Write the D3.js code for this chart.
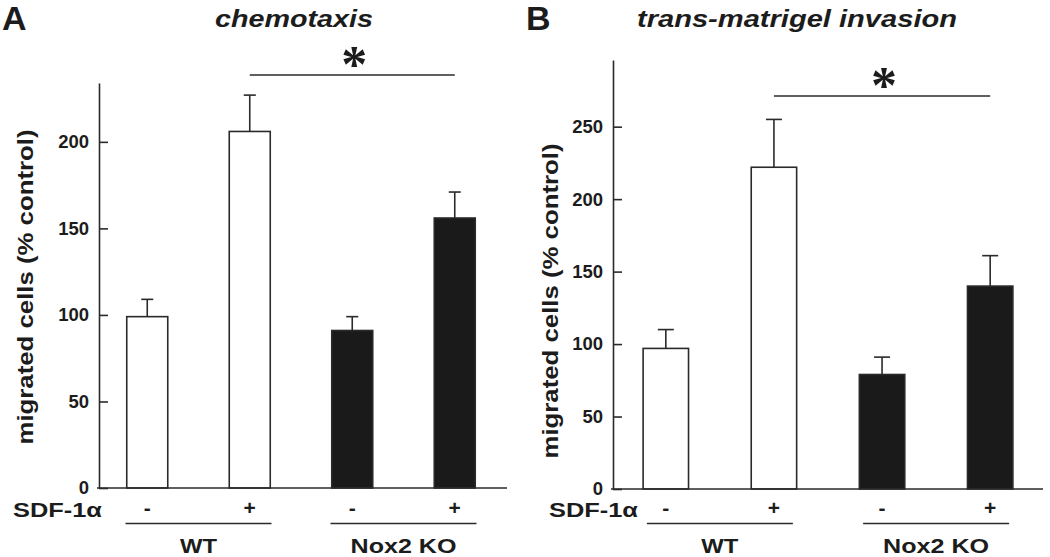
<!DOCTYPE html>
<html>
<head>
<meta charset="utf-8">
<script src="https://cdn.jsdelivr.net/npm/d3@7/dist/d3.min.js"></script>
<style>
  html, body { margin: 0; padding: 0; background: #fff; }
  svg { display: block; }
  text { font-family: "Liberation Sans", Arial, sans-serif; font-weight: bold; fill: #1c1c1c; }
</style>
</head>
<body>
<svg id="chart" width="1050" height="557"></svg>
<script>
// ---- Data ----
const conditions = ["WT -", "WT +", "Nox2 KO -", "Nox2 KO +"];
const sdfLabels = ["-", "+", "-", "+"];
const groups = ["WT", "Nox2 KO"];
const genotypeOf = ["WT", "WT", "Nox2 KO", "Nox2 KO"];

const chemotaxisMeans = [99, 206, 91, 156];
const chemotaxisErrors = [10, 21, 8, 15];
const invasionMeans = [97, 222, 79, 140];
const invasionErrors = [13, 33, 12, 21];

const chemotaxisTicks = [0, 50, 100, 150, 200];
const invasionTicks = [0, 50, 100, 150, 200, 250];

const yLabel = "migrated cells (% control)";
const sdfLabel = "SDF-1\u03b1";

const svg = d3.select("#chart");
const ink = "#1c1c1c";
const lineCol = "#2a2a2a";

function drawPanel(p) {
  const g = svg.append("g");
  const x = d3.scaleBand().domain(conditions).range(p.xRange)
    .paddingInner(p.padInner).paddingOuter(p.padOuter);
  const y = d3.scaleLinear().domain([0, p.yMax]).range([p.y0, p.yTop]);

  // bars
  g.selectAll("rect.bar").data(p.means).enter().append("rect")
    .attr("x", (d, i) => x(conditions[i]))
    .attr("y", d => y(d))
    .attr("width", x.bandwidth())
    .attr("height", d => y(0) - y(d))
    .attr("fill", (d, i) => genotypeOf[i] === "WT" ? "#fff" : "#1a1a1a")
    .attr("stroke", lineCol).attr("stroke-width", 1.6);

  // error bars (upper only)
  const eb = g.selectAll("g.err").data(p.means).enter().append("g");
  eb.append("line")
    .attr("x1", (d, i) => x(conditions[i]) + x.bandwidth() / 2)
    .attr("x2", (d, i) => x(conditions[i]) + x.bandwidth() / 2)
    .attr("y1", d => y(d))
    .attr("y2", (d, i) => y(d + p.errors[i]))
    .attr("stroke", lineCol).attr("stroke-width", 1.6);
  eb.append("line")
    .attr("x1", (d, i) => x(conditions[i]) + x.bandwidth() / 2 - p.cap / 2)
    .attr("x2", (d, i) => x(conditions[i]) + x.bandwidth() / 2 + p.cap / 2)
    .attr("y1", (d, i) => y(d + p.errors[i]))
    .attr("y2", (d, i) => y(d + p.errors[i]))
    .attr("stroke", lineCol).attr("stroke-width", 1.6);

  // baseline
  g.append("line").attr("x1", p.axisX - 2).attr("x2", p.baseEnd)
    .attr("y1", y(0)).attr("y2", y(0))
    .attr("stroke", lineCol).attr("stroke-width", 1.6);

  // y axis
  const ax = g.append("g").attr("transform", `translate(${p.axisX},0)`)
    .call(d3.axisLeft(y).tickValues(p.ticks).tickFormat(d3.format("d"))
      .tickSizeInner(-9).tickSizeOuter(0).tickPadding(10));
  ax.select(".domain").attr("stroke", lineCol).attr("stroke-width", 1.6);
  ax.selectAll(".tick line").attr("stroke", lineCol).attr("stroke-width", 1.6);
  ax.selectAll(".tick text")
    .style("font-family", '"Liberation Sans", Arial, sans-serif')
    .style("font-weight", "bold").attr("font-size", 18.5).attr("fill", ink)
    .attr("dy", "0.32em");

  // y label
  g.append("text")
    .attr("transform", `translate(${p.yLabelX},${p.yLabelY}) rotate(-90)`)
    .attr("text-anchor", "middle").attr("font-size", 22.5)
    .attr("textLength", 315).attr("lengthAdjust", "spacingAndGlyphs")
    .text(yLabel);

  // title + panel letter
  g.append("text").attr("x", p.titleX).attr("y", 27).attr("text-anchor", "middle")
    .attr("font-size", 23).attr("font-style", "italic")
    .attr("textLength", p.titleLen).attr("lengthAdjust", "spacingAndGlyphs")
    .text(p.title);
  g.append("text").attr("x", p.letterX).attr("y", 30).attr("font-size", 34)
    .text(p.letter);

  // significance bar
  const c1 = x(conditions[1]) + x.bandwidth() / 2;
  const c3 = x(conditions[3]) + x.bandwidth() / 2;
  g.append("line").attr("x1", c1).attr("x2", c3)
    .attr("y1", p.sigY).attr("y2", p.sigY)
    .attr("stroke", lineCol).attr("stroke-width", 1.6);
  g.append("text").attr("x", (c1 + c3) / 2 + 2).attr("y", p.sigY + 7)
    .attr("text-anchor", "middle").attr("font-size", 52)
    .style("font-family", '"Liberation Serif", serif').style("font-weight", "bold")
    .text("*");

  // SDF-1α row
  g.append("text").attr("x", p.sdfX).attr("y", 517).attr("text-anchor", "end")
    .attr("font-size", 20.5).attr("textLength", 89).attr("lengthAdjust", "spacingAndGlyphs")
    .text(sdfLabel);
  g.selectAll("text.sign").data(sdfLabels).enter().append("text")
    .attr("x", (d, i) => x(conditions[i]) + x.bandwidth() / 2)
    .attr("y", 515).attr("text-anchor", "middle").attr("font-size", 21)
    .text(d => d);

  // group lines and labels
  groups.forEach((grp, gi) => {
    const a = x(conditions[gi * 2]) + x.bandwidth() / 2;
    const b = x(conditions[gi * 2 + 1]) + x.bandwidth() / 2;
    const mid = (a + b) / 2;
    g.append("line").attr("x1", mid - 73).attr("x2", mid + 73)
      .attr("y1", 523.5).attr("y2", 523.5)
      .attr("stroke", lineCol).attr("stroke-width", 1.4);
    g.append("text").attr("x", mid).attr("y", 553).attr("text-anchor", "middle")
      .attr("font-size", 21)
      .attr("textLength", grp === "WT" ? 37 : 106).attr("lengthAdjust", "spacingAndGlyphs")
      .text(grp);
  });
}

drawPanel({
  means: chemotaxisMeans, errors: chemotaxisErrors, ticks: chemotaxisTicks,
  yMax: 234, y0: 488, yTop: 83, axisX: 99, baseEnd: 507,
  xRange: [96, 506], padInner: 0.6, padOuter: 0.3, cap: 12,
  yLabelX: 33, yLabelY: 287, title: "chemotaxis", titleX: 294, titleLen: 158,
  letter: "A", letterX: 2, sigY: 75, sdfX: 102
});

drawPanel({
  means: invasionMeans, errors: invasionErrors, ticks: invasionTicks,
  yMax: 296, y0: 489, yTop: 60, axisX: 613, baseEnd: 1043,
  xRange: [615, 1041], padInner: 0.58, padOuter: 0.26, cap: 16,
  yLabelX: 558, yLabelY: 301, title: "trans-matrigel invasion", titleX: 797, titleLen: 320,
  letter: "B", letterX: 526, sigY: 96, sdfX: 638
});
</script>
</body>
</html>
